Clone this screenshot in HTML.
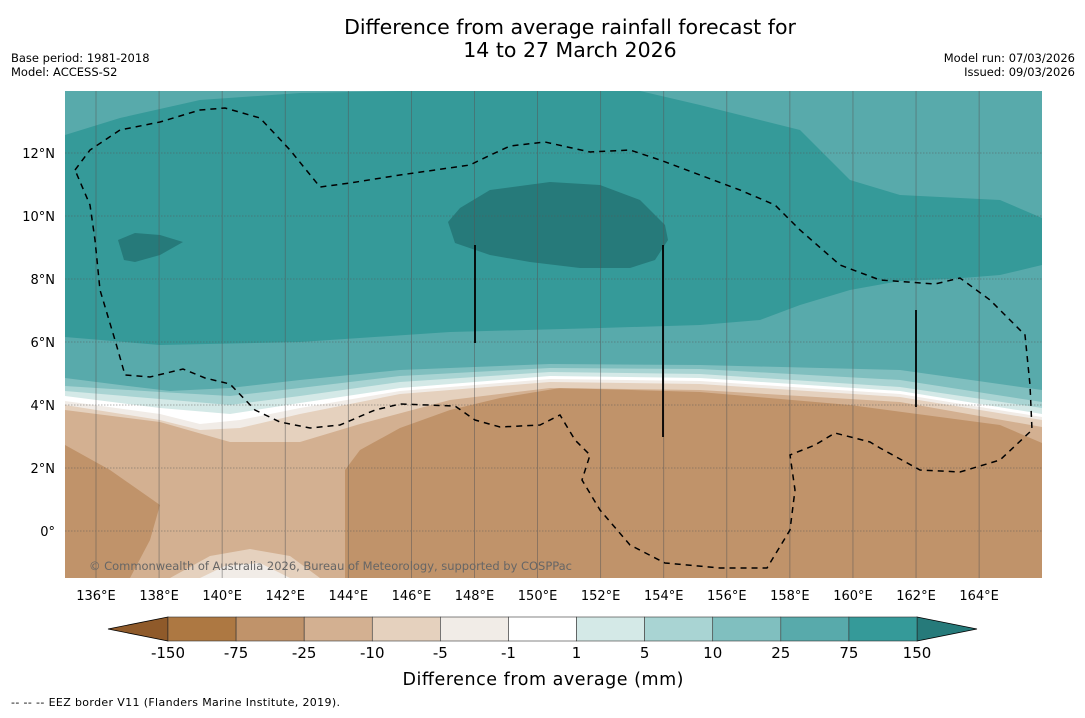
<!DOCTYPE html>
<html><head><meta charset="utf-8"><style>
body{margin:0;background:#fff;width:1085px;height:713px;overflow:hidden;font-family:"Liberation Sans","DejaVu Sans",sans-serif}
svg text{font-family:"DejaVu Sans","Liberation Sans",sans-serif}
</style></head><body>
<svg width="1085" height="713">
<text x="570" y="34" font-size="20.5" text-anchor="middle">Difference from average rainfall forecast for</text>
<text x="570" y="57" font-size="20.5" text-anchor="middle">14 to 27 March 2026</text>
<text x="11" y="62" font-size="11.5">Base period: 1981-2018</text>
<text x="11" y="76" font-size="11.5">Model: ACCESS-S2</text>
<text x="1075" y="62" font-size="11.5" text-anchor="end">Model run: 07/03/2026</text>
<text x="1075" y="76" font-size="11.5" text-anchor="end">Issued: 09/03/2026</text>
<defs><clipPath id="mc"><rect x="65" y="91" width="977" height="487"/></clipPath></defs>
<g clip-path="url(#mc)" id="map">
<rect x="65" y="91" width="977" height="487" fill="#d3b091"/>
<polygon fill="#c0936a" points="65,445 110,470 160,505 150,540 130,578 65,578"/>
<polygon fill="#c0936a" points="345,578 345,470 360,450 400,428 450,410 500,398 560,388 700,392 850,405 1000,425 1042,443 1042,578"/>
<polygon fill="#e5d1be" points="170,578 210,556 250,549 290,556 320,578"/>
<polygon fill="#f1ece7" points="200,578 225,566 260,563 290,578"/>
<polygon fill="#e5d1be" points="65,91 1042,91 1042,427 900,402 700,390 550,388 450,400 360,424 300,442 230,442 160,422 65,410"/>
<polygon fill="#f1ece7" points="65,91 1042,91 1042,420 900,397 700,384 550,382 400,394 300,414 240,428 200,430 160,420 65,405"/>
<polygon fill="#ffffff" points="65,91 1042,91 1042,417 900,394 700,381 550,379 400,391 300,408 240,420 200,424 160,414 65,401"/>
<polygon fill="#d4e9e7" points="65,91 1042,91 1042,414 900,391 700,378 550,376 400,388 300,403 230,414 160,408 65,396"/>
<polygon fill="#a9d4d3" points="65,91 1042,91 1042,408 900,387 700,374 550,372 400,382 300,396 230,405 160,399 65,391"/>
<polygon fill="#80bfbf" points="65,91 1042,91 1042,402 900,380 700,369 550,368 400,376 300,388 230,396 160,392 65,386"/>
<polygon fill="#58aaab" points="65,91 1042,91 1042,390 900,370 700,365 550,364 400,370 300,380 230,388 170,391 120,385 65,378"/>
<polygon fill="#359a99" points="65,135 120,118 200,100 300,93 400,91 640,91 700,105 800,130 850,180 900,195 1000,200 1042,218 1042,265 1000,275 950,279 900,281 850,290 800,305 760,320 700,325 600,328 450,332 300,342 160,345 65,337"/>
<polygon fill="#267a7a" points="448,222 460,208 490,190 550,182 600,185 640,200 665,225 668,240 655,260 630,268 580,268 530,262 490,255 455,243"/>
<polygon fill="#267a7a" points="118,240 135,233 160,235 183,242 160,255 135,262 124,260"/>
<g id="grid" stroke="#555" stroke-width="0.8" opacity="0.6"></g>
<polyline fill="none" stroke="#000" stroke-width="1.5" stroke-dasharray="6,5" points="75,170 90,150 120,130 160,122 200,110 225,108 260,118 290,150 320,187 350,183 400,175 470,165 480,160 510,146 545,142 590,152 630,150 660,160 700,175 740,190 775,205 800,230 840,265 880,280 935,284 960,278 990,300 1025,335 1030,385 1032,430 1000,460 960,472 920,470 880,448 870,442 835,433 815,445 790,455 795,490 790,530 767,568 720,568 665,563 630,545 600,510 582,480 590,455 585,450 575,440 560,415 540,425 500,427 475,420 455,406 400,404 375,410 340,425 310,428 280,422 255,410 230,384 205,378 183,369 150,377 125,375 115,340 100,290 95,240 90,205 75,170"/>
<line x1="475" y1="245" x2="475" y2="343" stroke="#000" stroke-width="1.8"/>
<line x1="663" y1="245" x2="663" y2="437" stroke="#000" stroke-width="1.8"/>
<line x1="916" y1="310" x2="916" y2="407" stroke="#000" stroke-width="1.8"/>
<text x="89" y="570" font-size="11.5" fill="#666" textLength="483">© Commonwealth of Australia 2026, Bureau of Meteorology, supported by COSPPac</text>
</g>
<g id="axes"></g>
<g id="cbar"></g>
<text x="543" y="685" font-size="17.5" text-anchor="middle" textLength="281">Difference from average (mm)</text>
<text x="11" y="706" font-size="11" textLength="329">--  --  -- EEZ border V11 (Flanders Marine Institute, 2019).</text>
</svg>
<script>
const lonTicks=[136,138,140,142,144,146,148,150,152,154,156,158,160,162,164];
const latTicks=[0,2,4,6,8,10,12];
const levels=["-150","-75","-25","-10","-5","-1","1","5","10","25","75","150"];
const colors=["#ad7842","#c0936a","#d3b091","#e5d1be","#f1ece7","#ffffff","#d4e9e7","#a9d4d3","#80bfbf","#58aaab","#359a99"];
const lowColor="#8f5a2a", highColor="#267a7a";
const NS="http://www.w3.org/2000/svg";
const xl=l=>96+(l-136)*31.54, yl=l=>531-l*31.5;
function mk(t,a,p){const e=document.createElementNS(NS,t);for(const k in a)e.setAttribute(k,a[k]);p.appendChild(e);return e;}
const grid=document.getElementById('grid'),axes=document.getElementById('axes'),cb=document.getElementById('cbar');
lonTicks.forEach(l=>{
 const g=mk('line',{x1:xl(l),x2:xl(l),y1:91,y2:578},grid);
 
 
 const t=mk('text',{x:xl(l),y:600,'font-size':13,'text-anchor':'middle'},axes);t.textContent=l+'°E';
 
 
});
latTicks.forEach(l=>{
 const g=mk('line',{x1:65,x2:1042,y1:yl(l),y2:yl(l),'stroke-dasharray':'1.5,1.5'},grid);
 
 
 const t=mk('text',{x:55,y:yl(l)+5,'font-size':13,'text-anchor':'end'},axes);t.textContent=l===0?'0°':l+'°N';
 
 
});
const x0=168,x1=917,cy0=617,cy1=641,w=(x1-x0)/colors.length;
const lt=mk('polygon',{points:`${x0},${cy0} 108,${(cy0+cy1)/2} ${x0},${cy1}`,fill:lowColor,stroke:'#000','stroke-width':0.8},cb);


const rt=mk('polygon',{points:`${x1},${cy0} 977,${(cy0+cy1)/2} ${x1},${cy1}`,fill:highColor,stroke:'#000','stroke-width':0.8},cb);


colors.forEach((c,i)=>{
 const r=mk('rect',{x:x0+i*w,y:cy0,width:w,height:cy1-cy0,fill:c,stroke:'#333','stroke-width':0.6},cb);
 
 
});
levels.forEach((v,i)=>{
 const t=mk('text',{x:x0+i*w,y:658,'font-size':15,'text-anchor':'middle'},cb);t.textContent=v;
 
 
});
</script>
</body></html>
